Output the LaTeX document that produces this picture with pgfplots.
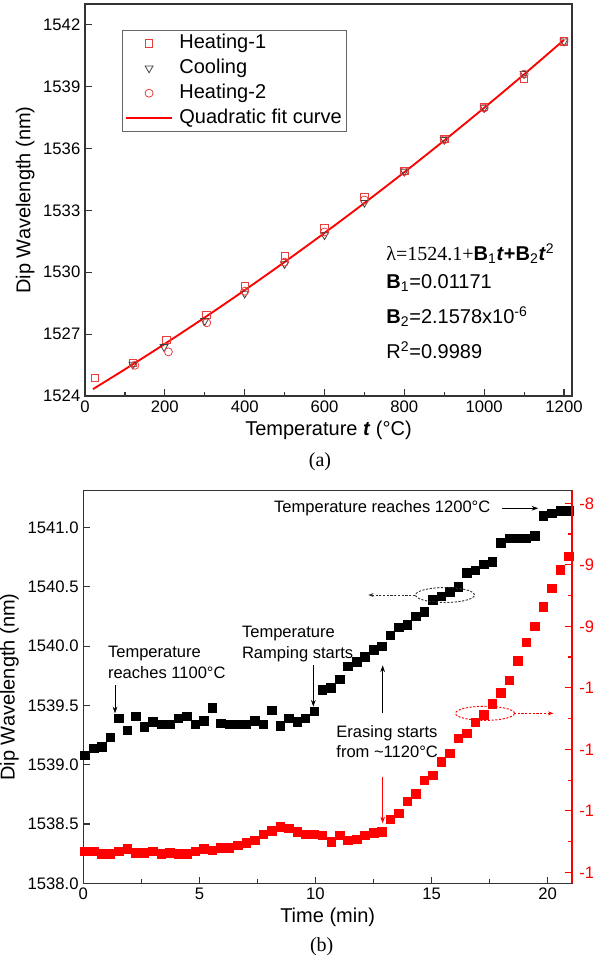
\documentclass[border=0pt]{standalone}
\usepackage{fontspec}
\setmainfont{Liberation Sans}
\newfontfamily\timesfont{Liberation Serif}
\usepackage{pgfplots}
\pgfplotsset{compat=1.18}
\usetikzlibrary{arrows.meta}
\definecolor{sqred}{RGB}{235,60,60}

\pgfplotstableread{
t v
0.07 1539.08
0.44 1539.14
0.80 1539.15
1.17 1539.23
1.53 1539.39
1.90 1539.29
2.26 1539.41
2.63 1539.32
3.00 1539.36
3.36 1539.34
3.73 1539.34
4.09 1539.39
4.46 1539.41
4.82 1539.34
5.19 1539.37
5.55 1539.48
5.92 1539.35
6.28 1539.34
6.65 1539.34
7.01 1539.34
7.38 1539.37
7.75 1539.34
8.11 1539.46
8.48 1539.33
8.84 1539.39
9.21 1539.36
9.57 1539.39
9.94 1539.45
10.30 1539.63
10.67 1539.65
11.04 1539.72
11.40 1539.83
11.77 1539.87
12.13 1539.91
12.50 1539.97
12.86 1540.00
13.23 1540.09
13.59 1540.16
13.96 1540.18
14.32 1540.25
14.69 1540.29
15.06 1540.39
15.42 1540.42
15.79 1540.46
16.15 1540.50
16.52 1540.62
16.88 1540.64
17.25 1540.69
17.61 1540.71
17.98 1540.87
18.35 1540.91
18.71 1540.91
19.08 1540.91
19.44 1540.93
19.81 1541.10
20.17 1541.12
20.54 1541.14
20.90 1541.14
}\blackdata

\pgfplotstableread{
t r
0.07 -11.33
0.44 -11.33
0.80 -11.35
1.17 -11.35
1.53 -11.33
1.90 -11.31
2.26 -11.34
2.63 -11.34
3.00 -11.33
3.36 -11.35
3.73 -11.34
4.09 -11.35
4.46 -11.35
4.82 -11.33
5.19 -11.31
5.55 -11.32
5.92 -11.30
6.28 -11.30
6.65 -11.28
7.01 -11.26
7.38 -11.24
7.75 -11.19
8.11 -11.16
8.48 -11.13
8.84 -11.14
9.21 -11.17
9.57 -11.19
9.94 -11.19
10.30 -11.20
10.67 -11.25
11.04 -11.20
11.40 -11.24
11.77 -11.23
12.13 -11.20
12.50 -11.18
12.86 -11.17
13.23 -11.07
13.59 -11.02
13.96 -10.92
14.32 -10.86
14.69 -10.75
15.06 -10.71
15.42 -10.60
15.79 -10.53
16.15 -10.41
16.52 -10.37
16.88 -10.28
17.25 -10.22
17.61 -10.13
17.98 -10.04
18.35 -9.94
18.71 -9.78
19.08 -9.63
19.44 -9.50
19.81 -9.34
20.17 -9.19
20.54 -9.04
20.90 -8.93
}\reddata

\begin{document}
\begin{tikzpicture}
% ---------------- panel (a) ----------------
\begin{axis}[
  scale only axis, width=365.25pt, height=294pt,
  at={(63.75pt,-297pt)}, anchor=south west,
  xmin=0, xmax=1220, ymin=1524, ymax=1543,
  xtick={0,200,...,1200}, ytick={1524,1527,...,1542},
  minor x tick num=1, minor y tick num=1,
  tick align=inside, xtick pos=bottom, ytick pos=left,
  major tick length=5pt, minor tick length=3pt,
  axis line style={line width=1.1pt, black!80},
  every tick/.style={black!80, line width=0.9pt},
  /pgf/number format/assume math mode=true,
  /pgf/number format/1000 sep={},
  tick label style={font=\fontsize{12.5}{14}\selectfont},
  label style={font=\fontsize{15}{18}\selectfont},
  xlabel={Temperature \textbf{\textit{t}} (°C)},
  ylabel={Dip Wavelength (nm)},
  xlabel style={at={(axis description cs:0.5,-0.0867)}, anchor=center},
  ylabel style={at={(axis description cs:-0.123,0.5)}, anchor=center},
  legend cell align=left,
  legend image code/.code={\draw[mark repeat=2,mark phase=2,#1] plot coordinates {(0cm,0cm) (0.6cm,0cm) (1.2cm,0cm)};},
  legend style={at={(0.0754,0.9337)}, anchor=north west, draw=black!60, line width=0.5pt,
    font=\fontsize{15}{18}\selectfont, inner xsep=2.5pt, inner ysep=1.5pt, row sep=2.2pt,
    nodes={inner sep=1pt, text height=11pt, text depth=3.5pt},
    /tikz/every odd column/.append style={column sep=4pt}},
]
\addplot[only marks, mark=square, mark size=2.75pt, color=sqred, mark options={line width=0.6pt}] coordinates {
(25,1524.87) (120,1525.62) (204,1526.71) (304,1527.92) (400,1529.33) (500,1530.78)
(600,1532.13) (700,1533.66) (800,1534.92) (900,1536.45) (1000,1538.0) (1100,1539.38) (1200,1541.19)};
\addlegendentry{Heating-1}
\addplot[only marks, mark=triangle, mark size=3.4pt, color=black!75, mark options={rotate=180, line width=0.6pt}] coordinates {
(120,1525.53) (198,1526.38) (300,1527.64) (400,1528.97) (500,1530.40) (600,1531.80)
(700,1533.37) (800,1534.88) (900,1536.42) (1000,1537.96) (1100,1539.62) (1200,1541.19)};
\addlegendentry{Cooling}
\addplot[only marks, mark=o, mark size=3pt, color=sqred, mark options={line width=0.6pt}] coordinates {
(125,1525.49) (209,1526.14) (305,1527.55) (400,1529.08) (500,1530.49) (600,1531.95)
(700,1533.50) (800,1534.88) (900,1536.42) (1000,1537.96) (1100,1539.60) (1200,1541.19)};
\addlegendentry{Heating-2}
\addplot[red, line width=1.4pt, smooth] coordinates {
(20,1524.335) (100,1525.293) (200,1526.528) (300,1527.807) (400,1529.129) (500,1530.495)
(600,1531.903) (700,1533.354) (800,1534.849) (900,1536.387) (1000,1537.968) (1100,1539.592) (1200,1541.259)};
\addlegendentry{Quadratic fit curve}
\end{axis}

\begin{scope}[font=\fontsize{15}{18}\selectfont]
\node[anchor=west] at (286.3pt,-190pt) {{\timesfont λ=1524.1+}\textbf{B}\textsubscript{1}\textbf{\textit{t}+B}\textsubscript{2}\textbf{\textit{t}}\textsuperscript{2}};
\node[anchor=west] at (286.3pt,-212.5pt) {\textbf{B}\textsubscript{1}=0.01171};
\node[anchor=west] at (286.3pt,-237.5pt) {\textbf{B}\textsubscript{2}=2.1578x10\textsuperscript{-6}};
\node[anchor=west] at (286.3pt,-262.5pt) {R\textsuperscript{2}=0.9989};
\end{scope}
\node[font=\timesfont\fontsize{15}{18}\selectfont] at (240pt,-346.3pt) {(a)};

% ---------------- panel (b) ----------------
\begin{axis}[
  scale only axis, width=366.5pt, height=294.45pt,
  at={(62.5pt,-662.5pt)}, anchor=south west,
  xmin=0, xmax=21.05, ymin=1538, ymax=1541.31,
  xtick={0,5,...,20}, ytick={1538,1538.5,...,1541},
  minor x tick num=1, minor y tick num=1,
  tick align=inside, xtick pos=bottom, ytick pos=left,
  major tick length=5pt, minor tick length=3pt,
  axis line style={line width=1.1pt, black!80},
  every tick/.style={black!80, line width=0.9pt},
  /pgf/number format/assume math mode=true,
  /pgf/number format/1000 sep={},
  yticklabel style={/pgf/number format/.cd, fixed, fixed zerofill, precision=1},
  tick label style={font=\fontsize{12.5}{14}\selectfont},
  label style={font=\fontsize{15}{18}\selectfont},
  xlabel={Time (min)},
  ylabel={Dip Wavelength (nm)},
  xlabel style={at={(axis description cs:0.5,-0.087)}, anchor=center},
  ylabel style={at={(axis description cs:-0.151,0.5)}, anchor=center},
]
\addplot[only marks, mark=square*, mark size=3.2pt, black] table[x=t, y=v] {\blackdata};
\end{axis}

\begin{axis}[
  scale only axis, width=366.5pt, height=294.45pt,
  at={(62.5pt,-662.5pt)}, anchor=south west,
  xmin=0, xmax=21.05, ymin=-11.589, ymax=-8.398,
  axis x line=none, axis y line*=right,
  ytick pos=right, yticklabel pos=right,
  ytick={-11.5,-11,...,-8.5}, minor y tick num=1,
  tick align=inside,
  major tick length=5pt, minor tick length=3pt,
  axis line style={-, line width=1.1pt, red},
  every outer y axis line/.append style={-},
  y axis line style={-},
  every tick/.style={red, line width=0.9pt},
  /pgf/number format/assume math mode=true,
  yticklabel style={red, xshift=2pt, font=\fontsize{12.5}{14}\selectfont, /pgf/number format/.cd, fixed, fixed zerofill, precision=1},
]
\addplot[only marks, mark=square*, mark size=3.2pt, red] table[x=t, y=r] {\reddata};
\end{axis}

% annotations (b)
\begin{scope}[font=\fontsize{12.4}{14.5}\selectfont]
\node[anchor=east] at (371.25pt,-381.2pt) {Temperature reaches 1200°C};
\draw[-{Stealth[length=5pt,width=3.5pt]}, line width=0.6pt] (376.3pt,-381.2pt) -- (403.7pt,-381.2pt);

\node[anchor=west] at (77.5pt,-490pt) {Temperature};
\node[anchor=west] at (77.5pt,-504.5pt) {reaches 1100°C};
\draw[-{Stealth[length=5pt,width=3.5pt]}, line width=0.6pt] (86.25pt,-513.75pt) -- (86.25pt,-535pt);

\node[anchor=west] at (178pt,-475pt) {Temperature};
\node[anchor=west] at (178pt,-490.5pt) {Ramping starts};
\draw[-{Stealth[length=5pt,width=3.5pt]}, line width=0.6pt] (235pt,-498.75pt) -- (235pt,-530pt);

\draw[-{Stealth[length=5pt,width=3.5pt]}, line width=0.6pt] (287pt,-535pt) -- (287pt,-499pt);

\node[anchor=west] at (248.8pt,-550pt) {Erasing starts};
\node[anchor=west] at (248.8pt,-563.8pt) {from \textasciitilde1120°C};
\draw[-{Stealth[length=5pt,width=3.5pt]}, line width=0.6pt, red] (287pt,-582.5pt) -- (287pt,-617.5pt);
\end{scope}

\draw[line width=0.7pt, dash pattern=on 1.6pt off 1.2pt, black!80] (333.75pt,-446.25pt) ellipse [x radius=22.1pt, y radius=5.6pt];
\draw[line width=0.7pt, dash pattern=on 1.6pt off 1.2pt, black!80, -{Stealth[length=4pt,width=3pt]}] (311.25pt,-446.25pt) -- (276.2pt,-446.25pt);
\draw[line width=0.7pt, dash pattern=on 1.6pt off 1.2pt, red] (363.75pt,-535pt) ellipse [x radius=22.1pt, y radius=5.3pt];
\draw[line width=0.7pt, dash pattern=on 1.6pt off 1.2pt, red, -{Stealth[length=4pt,width=3pt]}] (385.5pt,-535pt) -- (415pt,-535pt);

\node[font=\timesfont\fontsize{15}{18}\selectfont] at (241.3pt,-710pt) {(b)};

\pgfresetboundingbox
\path[use as bounding box] (0pt,0pt) rectangle (444.75pt,-718.5pt);
\end{tikzpicture}
\end{document}
